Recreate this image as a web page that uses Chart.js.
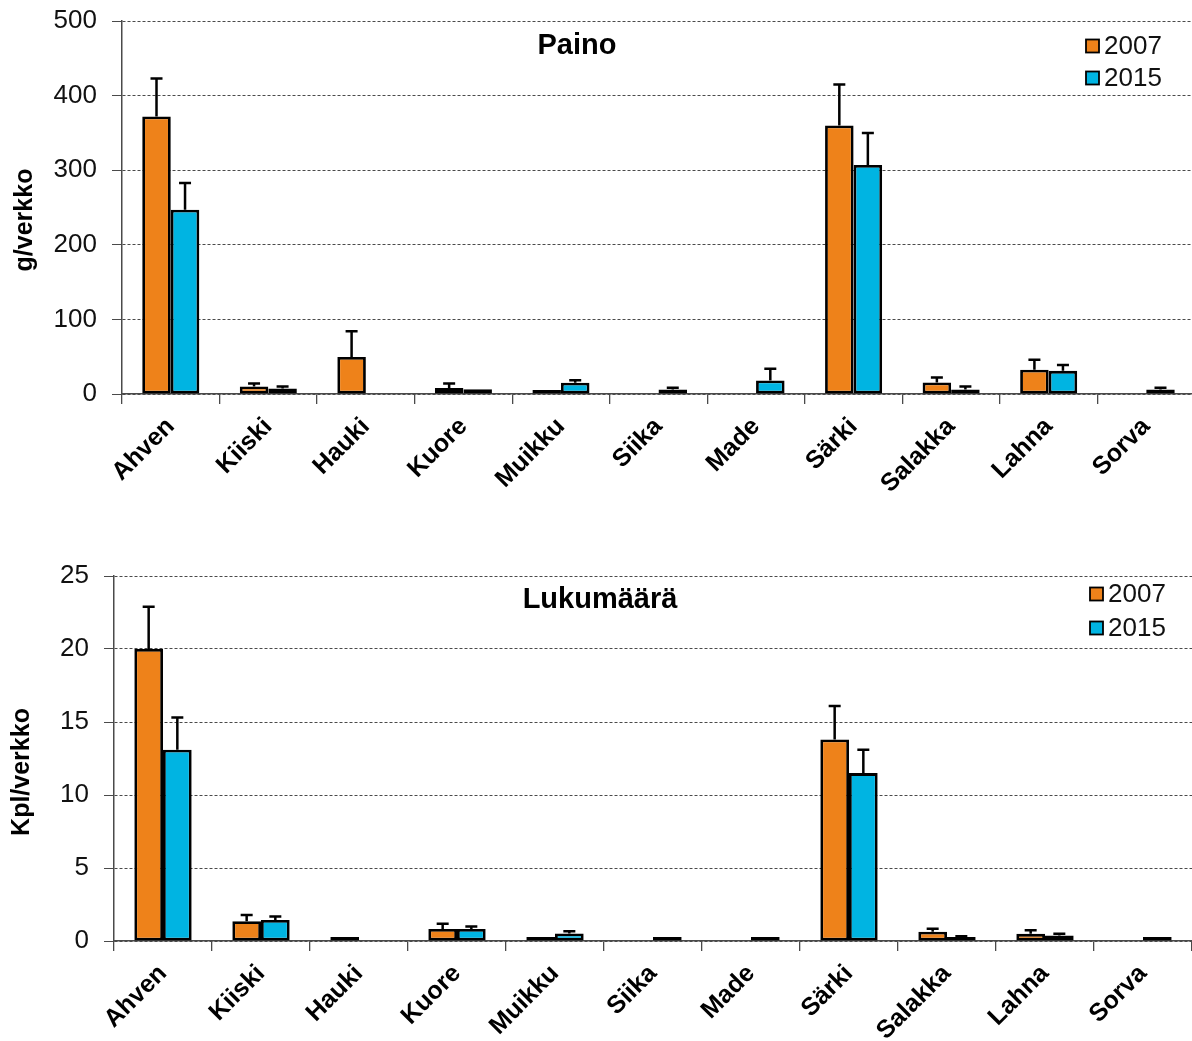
<!DOCTYPE html>
<html>
<head>
<meta charset="utf-8">
<script src="https://cdn.jsdelivr.net/npm/chart.js@4.4.1/dist/chart.umd.min.js"></script>
<style>
  html, body { margin: 0; padding: 0; background: #fff; overflow: hidden; }
  .box { position: absolute; left: 0; }
</style>
</head>
<body>
<div class="box" style="top:0;width:1195px;height:540px"><canvas id="paino"></canvas></div>
<div class="box" style="top:540px;width:1192px;height:501px"><canvas id="lukumaara"></canvas></div>
<script>
const species = ["Ahven", "Kiiski", "Hauki", "Kuore", "Muikku", "Siika", "Made", "Särki", "Salakka", "Lahna", "Sorva"];
const seriesYears = ["2007", "2015"];

// Paino, g/verkko (null = no catch)
const paino2007 = [372, 10, 49.5, 8, 1, null, null, 360, 15.5, 32.5, null];
const paino2015 = [247, 7.5, null, 6.5, 15, 6, 18, 307, 6, 31, 6];
const painoErr2007 = [51, 4, 34.5, 6, 0, null, null, 55, 6.5, 13.5, null];
const painoErr2015 = [36, 2.5, null, 0, 3.5, 2.5, 16, 43, 4, 8, 2.5];
const painoTicks = [0, 100, 200, 300, 400, 500];

// Lukumäärä, Kpl/verkko
const kpl2007 = [20.0, 1.35, 0.05, 0.82, 0.03, null, null, 13.8, 0.63, 0.49, null];
const kpl2015 = [13.1, 1.44, null, 0.82, 0.52, 0.05, 0.05, 11.5, 0.25, 0.38, 0.05];
const kplErr2007 = [2.9, 0.43, 0, 0.37, 0, null, null, 2.3, 0.21, 0.25, null];
const kplErr2015 = [2.2, 0.23, null, 0.18, 0.14, 0, 0, 1.6, 0.08, 0.12, 0];
const kplTicks = [0, 5, 10, 15, 20, 25];

const FONT = '"Liberation Sans", Arial, sans-serif';
const ORANGE = "#EE821A";
const BLUE = "#00B4E2";
const AXIS = "#4a4a4a";

// upper error bars (value + sd)
const errorBars = {
  id: "errorBars",
  afterDatasetsDraw(chart) {
    const ctx = chart.ctx;
    const y = chart.scales.y;
    ctx.save();
    ctx.strokeStyle = "#000";
    ctx.lineWidth = 2.5;
    chart.data.datasets.forEach((ds, i) => {
      const meta = chart.getDatasetMeta(i);
      meta.data.forEach((bar, j) => {
        const v = ds.data[j];
        const e = ds.errors[j];
        if (v == null || !e) return;
        const top = y.getPixelForValue(v + e);
        ctx.beginPath();
        ctx.moveTo(bar.x, bar.y);
        ctx.lineTo(bar.x, top);
        ctx.moveTo(bar.x - 6, top);
        ctx.lineTo(bar.x + 6, top);
        ctx.stroke();
      });
    });
    ctx.restore();
  }
};

// title inside plot, legend top right, y axis title
const decor = {
  id: "decor",
  afterDraw(chart, args, o) {
    const ctx = chart.ctx;
    ctx.save();
    ctx.fillStyle = "#000";
    ctx.textBaseline = "middle";
    ctx.textAlign = "center";
    ctx.font = "bold 29px " + FONT;
    ctx.fillText(o.title, o.titleX, o.titleY);

    ctx.save();
    ctx.translate(o.yTitleX, o.yTitleY);
    ctx.rotate(-Math.PI / 2);
    ctx.font = "bold 25px " + FONT;
    ctx.fillText(o.yTitle, 0, 0);
    ctx.restore();

    ctx.textAlign = "left";
    ctx.font = "26px " + FONT;
    chart.data.datasets.forEach((ds, i) => {
      const cy = o.legendY + i * o.legendGap;
      ctx.fillStyle = ds.backgroundColor;
      ctx.fillRect(o.legendX, cy - 6.5, 13, 13);
      ctx.strokeStyle = "#000";
      ctx.lineWidth = 1.8;
      ctx.strokeRect(o.legendX, cy - 6.5, 13, 13);
      ctx.fillStyle = "#111";
      ctx.fillText(ds.label, o.legendX + 18, cy + 1);
    });
    ctx.restore();
  }
};

function makeChart(id, cfg) {
  return new Chart(document.getElementById(id), {
    type: "bar",
    data: {
      labels: species,
      datasets: [
        { label: seriesYears[0], data: cfg.a, errors: cfg.ea, backgroundColor: ORANGE },
        { label: seriesYears[1], data: cfg.b, errors: cfg.eb, backgroundColor: BLUE }
      ]
    },
    options: {
      responsive: true,
      maintainAspectRatio: false,
      animation: false,
      layout: { padding: { top: cfg.padTop, left: 0, right: 0, bottom: 0 } },
      datasets: {
        bar: {
          borderColor: "#000",
          borderWidth: 2.8,
          borderSkipped: false,
          categoryPercentage: 0.585,
          barPercentage: 1,
          minBarLength: 4
        }
      },
      plugins: {
        legend: { display: false },
        tooltip: { enabled: false },
        decor: cfg.decor
      },
      scales: {
        x: {
          grid: { offset: true, drawOnChartArea: false, drawTicks: true, tickLength: 10, color: AXIS, lineWidth: 1.3 },
          border: { display: true, color: AXIS, width: 1.5 },
          ticks: {
            autoSkip: false, minRotation: 45, maxRotation: 45, padding: 8,
            color: "#000", font: { family: FONT, size: 25, weight: "bold" }
          },
          afterFit: (s) => { s.height = cfg.xHeight; }
        },
        y: {
          min: 0,
          max: cfg.ticks[cfg.ticks.length - 1],
          afterBuildTicks: (s) => { s.ticks = cfg.ticks.map((v) => ({ value: v })); },
          grid: { color: AXIS, lineWidth: 1, tickLength: 10, tickColor: AXIS },
          border: { display: true, color: AXIS, width: 1.5, dash: [3, 2] },
          ticks: { color: "#111", padding: 15, font: { family: FONT, size: 26 } },
          afterFit: (s) => {
            s.width = cfg.yWidth;
            s.paddingTop = 0;
            s.paddingBottom = 0;
          }
        }
      }
    },
    plugins: [errorBars, decor]
  });
}

makeChart("paino", {
  a: paino2007, b: paino2015, ea: painoErr2007, eb: painoErr2015, ticks: painoTicks,
  padTop: 21, xHeight: 146, yWidth: 122,
  decor: {
    title: "Paino", titleX: 577, titleY: 46,
    yTitle: "g/verkko", yTitleX: 25, yTitleY: 220,
    legendX: 1086, legendY: 46, legendGap: 32
  }
});

makeChart("lukumaara", {
  a: kpl2007, b: kpl2015, ea: kplErr2007, eb: kplErr2015, ticks: kplTicks,
  padTop: 36, xHeight: 100, yWidth: 114,
  decor: {
    title: "Lukumäärä", titleX: 600, titleY: 60,
    yTitle: "Kpl/verkko", yTitleX: 22, yTitleY: 232,
    legendX: 1090, legendY: 54, legendGap: 34
  }
});
</script>
</body>
</html>
